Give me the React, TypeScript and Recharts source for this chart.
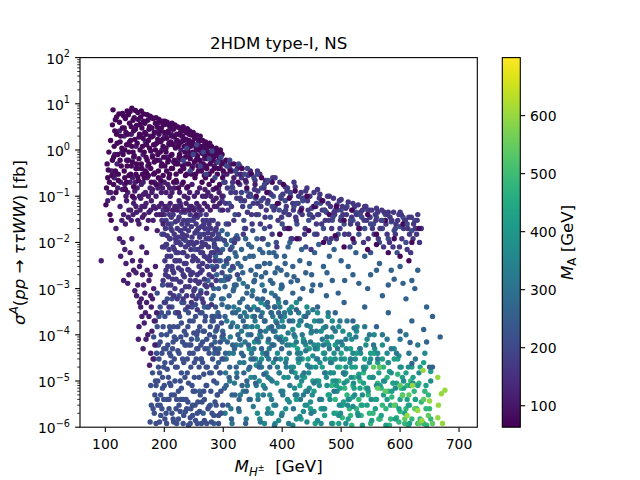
import React from 'react';
import { ScatterChart, Scatter, XAxis, YAxis } from 'recharts';

// ---------- axes / colour scale ----------
const X_DOMAIN = [57, 731];
const X_TICKS = [100, 200, 300, 400, 500, 600, 700];
const Y_DOMAIN = [1e-6, 100];
const Y_TICKS = [1e-6, 1e-5, 1e-4, 1e-3, 1e-2, 1e-1, 1, 10, 100];
const MA_MIN = 63;
const MA_MAX = 700;
const MA_TICKS = [100, 200, 300, 400, 500, 600];

const VIRIDIS = ['#440154', '#471365', '#482475', '#463480', '#414487', '#3b528b', '#355f8d', '#2f6c8e', '#2a788e', '#25848e', '#21918c', '#1e9c89', '#22a884', '#2fb47c', '#44bf70', '#5ec962', '#7ad151', '#9bd93c', '#bddf26', '#dfe318', '#fde725'];

// ---------- data: [M_H±, sigma] grouped by M_A ----------
const MA_A = 75;
const PTS_A = [
  [101,0.065],[104,0.25],[105,0.37],[108,0.04],[110,0.03],[113,7.4],[112,0.6],[115,1.2],[117,4.5],[119,2.2],[121,0.8],[123,6],[125,1.5],[127,0.45],[129,3],[114,0.18],[118,0.12],[122,0.3],
  [131,5.5],[133,1],[135,2.4],[137,7],[139,0.6],[141,3.8],[143,1.6],[145,8],[147,0.9],[149,5],[151,2.8],[153,0.5],[155,6.5],[157,1.9],[159,3.6],[132,0.35],[136,0.2],[140,0.28],[144,0.45],[148,0.16],[152,0.3],[156,0.22],[134,0.14],[146,0.1],
  [161,7],[163,1.2],[165,4.2],[167,2.4],[169,0.7],[171,5.8],[173,1.6],[175,3.2],[177,0.95],[179,5],[181,2],[183,0.55],[185,3.8],[187,1.4],[189,0.8],[191,4.6],[193,2.6],[195,0.45],[197,1.7],[199,3.5],[162,0.4],[166,0.25],[170,0.32],[174,0.5],[178,0.2],[182,0.3],[186,0.18],[190,0.35],[194,0.22],[198,0.28],
  [201,4.2],[203,1.1],[205,2.3],[207,0.6],[209,3.4],[211,1.5],[213,0.8],[215,2.8],[217,1.9],[219,0.5],[221,3.2],[223,1.2],[225,0.7],[227,2.1],[229,2.9],[231,0.45],[233,1.6],[235,0.9],[237,2.4],[239,1.3],[204,0.35],[208,0.25],[212,0.4],[216,0.2],[220,0.3],[224,0.15],[228,0.35],[232,0.2],[236,0.28],[240,0.16],
  [242,2.2],[245,0.8],[248,1.5],[251,1.9],[254,0.6],[257,1.2],[260,1.7],[263,0.5],[266,1],[269,1.4],[272,0.4],[275,0.85],[278,1.2],[281,0.35],[284,0.7],[287,1],[290,0.3],[293,0.6],[296,0.85],[299,0.25],[246,0.3],[252,0.25],[258,0.35],[264,0.2],[270,0.25],[276,0.18],[282,0.22],[288,0.15],[294,0.18],
  [102,0.15],[103,0.5],[106,0.9],[107,0.2],[109,1.6],[111,0.28],[112,3.5],[114,0.7],[116,2.6],[117,0.35],[119,5.2],[120,1.4],[122,0.22],[124,4],[125,0.6],[126,2],[128,1.1],[129,6.2],[130,0.8],[132,3],[133,0.25],[134,4.8],[136,1.3],[137,0.45],[138,2.2],[139,5.8],[140,0.9],[141,1.5],[142,6.8],[143,0.3],[144,3.2],[145,1.2],[146,0.55],[147,4.4],[148,2.6],[149,0.75],[150,1.7],[151,7.2],[152,0.4],[153,3.4],[154,1.4],[155,0.26],[156,4.6],[157,0.65],[158,2.2],[159,1],[160,5.2],
  [161,0.5],[162,3],[163,0.3],[164,1.8],[165,6],[166,0.9],[167,3.8],[168,0.35],[169,2.2],[170,1.3],[171,0.6],[172,4.4],[173,0.28],[174,2.8],[175,1.1],[176,5.4],[177,0.4],[178,1.9],[179,3],[180,0.7],[181,4.8],[182,1.3],[183,2.4],[184,0.32],[185,1],[186,5],[187,0.6],[188,3.2],[189,1.7],[190,0.25],[191,2.2],[192,4],[193,0.9],[194,1.5],[195,3],[196,0.5],[197,4.2],[198,1.2],[199,0.7],[200,2.4],
  [201,0.45],[202,3.6],[203,0.9],[204,1.8],[205,4],[206,0.55],[207,2.6],[208,1.4],[209,0.3],[210,3.2],[211,0.75],[212,2],[213,3.8],[214,0.4],[215,1.3],[216,2.9],[217,0.6],[218,3.5],[219,1.1],[220,0.22],[221,2.2],[222,1.6],[223,0.5],[224,3.1],[225,1.3],[226,0.8],[227,0.35],[228,2.5],[229,1.5],[230,0.65],[231,2],[232,3.2],[233,0.4],[234,1.2],[235,2.6],[236,0.7],[237,1.7],[238,0.3],[239,2.9],[240,1],
  [241,0.5],[242,1.6],[243,2.6],[244,0.65],[245,1.2],[246,2.1],[247,0.4],[248,0.9],[249,2.4],[250,1.3],[251,0.55],[252,1.8],[253,0.3],[254,1.1],[255,2.1],[256,0.75],[257,0.45],[258,1.5],[259,1],[260,0.6],[261,2],[262,1.2],[263,0.35],[264,0.85],[265,1.6],[266,0.5],[267,1.2],[268,0.28],[269,0.75],[270,1.5],[271,0.45],[272,1.1],[273,0.65],[274,1.3],[275,0.3],[276,0.9],[277,1.4],[278,0.5],[279,0.8],[280,1.2],[282,0.6],[283,1],[285,0.4],[286,0.8],[288,1.1],[289,0.55],[291,0.9],[292,0.4],[294,0.7],[295,1],[297,0.5],[298,0.8],[300,0.35],
  [305,0.6],[312,0.35],[318,0.5],[325,0.2],[332,0.4],[340,0.15],[348,0.3],[356,0.1],[365,0.25],[374,0.12],[383,0.2],[392,0.07],[402,0.18],[412,0.09],[422,0.13],[432,0.05],[442,0.1],[455,0.06],[468,0.08],[480,0.04],[492,0.06],[505,0.03],[518,0.05],[530,0.02],[545,0.04],[560,0.015],[575,0.03],[590,0.012],[605,0.025],[620,0.01],[632,0.02],
  [396,0.015],[410,0.02],[425,0.012],[445,0.018],[470,0.01],[490,0.014],[505,0.008],[520,0.012],[545,0.007],[560,0.009],[580,0.006],[600,0.005],[615,0.004],
];

const MA_B = 115;
const PTS_B = [
  [106,0.12],[111,0.35],[116,0.8],[120,0.5],[124,2.6],[128,0.9],[132,2],[136,0.6],[140,1.3],[144,2.2],[148,0.7],[152,1.2],[156,0.4],[160,2.1],[164,0.8],[168,1.5],[172,0.45],[176,2],[180,0.75],[184,1.3],[188,2.5],[192,0.6],[196,1],[200,1.9],[204,0.7],[208,1.3],[212,2.2],[216,0.55],[220,1.5],[224,0.6],[228,1],[232,1.8],[236,0.5],[240,0.8],[244,1.4],[248,0.45],[252,0.9],[256,0.7],[260,1],[264,0.4],[268,0.65],[272,0.9],[276,0.3],[280,0.6],[285,0.45],[290,0.75],[295,0.4],[300,0.55],[306,0.3],[312,0.5],[318,0.25],[324,0.4],[330,0.3],[338,0.22],[346,0.35],[354,0.18],[362,0.3],[372,0.2],
  [125,0.06],[131,0.04],[136,0.08],[140,0.05],[144,0.03],[148,0.07],[153,0.045],[157,0.025],[160,0.09],[163,0.035],[167,0.06],[170,0.02],[174,0.045],[178,0.08],[181,0.03],[185,0.055],[188,0.018],[192,0.04],[195,0.07],[198,0.025],[150,0.13],[165,0.11],[180,0.14],[195,0.12],[210,0.1],[225,0.08],[240,0.09],[255,0.07],[270,0.1],[285,0.06],
  [104,0.08],[109,0.12],[113,0.09],[115,0.25],[118,0.3],[121,0.15],[126,0.2],[129,0.14],[133,0.18],[135,0.1],[138,0.12],[142,0.2],[146,0.25],[149,0.09],[151,0.2],[154,0.15],[158,0.1],[161,0.18],[164,0.2],[168,0.12],[171,0.25],[173,0.1],[176,0.15],[179,0.12],[183,0.2],[186,0.1],[189,0.15],[193,0.18],[197,0.15],[200,0.2],[203,0.12],[206,0.18],[209,0.15],[213,0.12],[217,0.15],[221,0.2],[226,0.12],[230,0.18],[234,0.1],[238,0.15],[243,0.12],[247,0.18],[251,0.1],[256,0.12],[260,0.15],[265,0.1],[269,0.14],[274,0.12],[279,0.1],[283,0.14],[288,0.09],[293,0.12],[298,0.1],
  [128,0.03],[134,0.025],[139,0.035],[143,0.05],[147,0.04],[152,0.06],[155,0.03],[159,0.05],[162,0.06],[166,0.04],[169,0.07],[173,0.03],[177,0.05],[182,0.06],[187,0.04],[191,0.06],[196,0.04],[201,0.06],[205,0.05],[210,0.07],[214,0.05],[218,0.06],[222,0.05],[228,0.06],[233,0.05],[237,0.07],[242,0.05],[246,0.06],[250,0.05],[254,0.04],[259,0.06],[264,0.05],[268,0.07],[273,0.06],[278,0.05],[283,0.08],[289,0.06],[294,0.07],[299,0.05],
  [93,4e-3],[130,1e-2],[135,3.5e-3],[131,1.5e-3],[138,1.3e-3],[152,2.2e-3],[153,7e-4],[157,1.5e-4],[156,8e-5],[164,5e-5],[175,2.2e-5],[118,0.02],[124,0.012],[145,0.012],[142,6e-3],[160,4e-3],[148,2.5e-3],[165,1.2e-3],[170,6e-3],[162,8e-3],[168,3e-4],[172,1e-4],[160,4e-4],[150,9e-4],[176,2e-3],[180,6e-4],[178,4e-4],[183,2e-4],
  [126,5e-3],[133,7e-3],[140,2e-3],[146,4e-3],[155,1.2e-3],[158,3e-3],[163,2e-3],[167,8e-4],[171,2.5e-3],[174,1.5e-3],[177,7e-4],[182,1e-3],[185,3e-3],[161,6e-4],[166,1.8e-4],[170,5e-4],[174,2.5e-4],[179,1.2e-4],[184,6e-5],[187,3e-4],[169,8e-5],[177,4e-5],[181,3e-5],[162,2.5e-4],[158,5e-4],
];

const MA_C = 165;
const PTS_C = [
  [198,0.05],[203,0.03],[207,0.06],[211,0.02],[215,0.04],[219,0.012],[223,0.03],[227,0.07],[231,0.015],[235,0.045],[239,0.025],[243,0.06],[247,0.01],[251,0.035],[255,0.018],[259,0.05],[263,0.008],[267,0.025],[271,0.04],[275,0.012],[279,0.03],[284,0.006],[288,0.02],
  [200,8e-3],[205,5e-3],[209,1.2e-2],[213,3e-3],[217,7e-3],[221,4e-3],[225,1e-2],[229,2.5e-3],[233,6e-3],[237,3.5e-3],[241,9e-3],[245,2e-3],[249,5e-3],[253,1.5e-3],[257,4e-3],[261,2.2e-3],[265,6e-3],[269,1.2e-3],[273,3e-3],[277,5e-3],[281,1.8e-3],
  [202,2e-3],[206,1.2e-3],[210,8e-4],[214,1.6e-3],[218,1e-3],[222,6e-4],[226,1.4e-3],[230,9e-4],[234,1.8e-3],[238,7e-4],[242,1.1e-3],[246,5e-4],[250,9e-4],[254,6e-4],[258,1.3e-3],[262,8e-4],[266,5e-4],
  [196,0.03],[197,0.008],[199,0.015],[200,0.04],[201,0.004],[202,0.02],[203,0.009],[204,0.06],[205,0.014],[206,0.003],[207,0.025],[208,0.007],[209,0.04],[210,0.012],[211,0.005],[212,0.035],[213,0.018],[214,0.0025],[215,0.008],[216,0.05],[217,0.015],[218,0.004],[219,0.028],[220,0.01],[221,0.06],[222,0.02],[223,0.006],[224,0.013],[225,0.035],[226,0.004],[227,0.018],[228,0.009],[229,0.045],[230,0.025],[231,0.006],[232,0.012],[233,0.03],[234,0.0035],[235,0.02],[236,0.008],[237,0.05],[238,0.014],[239,0.005],[240,0.03],[241,0.018],[242,0.0025],[243,0.01],[244,0.04],[245,0.007],
  [246,0.022],[247,0.013],[248,0.004],[249,0.03],[250,0.009],[251,0.055],[252,0.016],[253,0.0045],[254,0.025],[255,0.01],[256,0.035],[257,0.007],[258,0.02],[259,0.003],[260,0.013],[261,0.04],[262,0.006],[263,0.022],[264,0.01],[265,0.0035],[266,0.03],[267,0.015],[268,0.005],[269,0.02],[270,0.009],[271,0.012],[272,0.03],[273,0.0045],[274,0.016],[275,0.008],[276,0.025],[277,0.004],[278,0.012],[279,0.02],[280,0.006],[282,0.015],[283,0.03],[285,0.009],[286,0.004],[287,0.018],[289,0.012],[290,0.007],[291,0.025],
  [198,1.5e-3],[203,2.5e-3],[207,1.8e-3],[211,1.2e-3],[216,2.2e-3],[220,1.6e-3],[224,2.8e-3],[228,1.4e-3],[232,2e-3],[236,1.1e-3],[240,2.6e-3],[244,1.5e-3],[248,2.2e-3],[252,1e-3],[256,2e-3],[260,1.4e-3],[264,2.5e-3],[268,1.6e-3],[272,1.1e-3],[276,2e-3],[280,1.2e-3],[284,2.6e-3],[288,1.5e-3],[200,5e-4],[208,4e-4],[216,7e-4],[224,3e-4],[232,6e-4],[240,4e-4],[248,7e-4],[256,3.5e-4],[264,6e-4],[272,8e-4],[280,4.5e-4],
  [292,0.15],[298,0.08],[303,0.2],[308,0.05],[313,0.12],[318,0.03],[323,0.09],[328,0.18],[333,0.06],[338,0.02],[343,0.1],[348,0.04],[353,0.14],[358,0.07],[363,0.025],[368,0.09],[373,0.05],[378,0.12],[383,0.015],[388,0.06],[393,0.03],[398,0.09],[403,0.045],[408,0.13],[413,0.02],[418,0.07],[423,0.035],[428,0.1],[433,0.055],[438,0.015],[443,0.08],[448,0.04],[453,0.06],[458,0.025],[463,0.09],[468,0.05],[473,0.03],[478,0.07],[483,0.012],[488,0.045],[493,0.065],[498,0.02],[503,0.04],[508,0.055],[513,0.015],[518,0.035],[523,0.06],[528,0.025],[533,0.045],[538,0.01],[543,0.03],[548,0.05],[553,0.02],[558,0.04],[563,0.012],[568,0.03],[573,0.045],[578,0.015],[583,0.035],[588,0.008],[593,0.025],[598,0.04],[603,0.012],[608,0.03],[613,0.02],[618,0.006],[623,0.025],[628,0.015],
  [302,0.5],[315,0.35],[328,0.45],[342,0.28],[358,0.35],[372,0.22],[388,0.25],[405,0.16],[420,0.2],[440,0.13],[460,0.14],[480,0.1],[500,0.085],[520,0.07],[540,0.06],[560,0.055],[580,0.045],[600,0.045],[615,0.035],[630,0.04],
  [301,0.3],[304,0.07],[307,0.15],[309,0.025],[311,0.4],[314,0.06],[316,0.2],[319,0.01],[321,0.12],[324,0.3],[326,0.04],[329,0.09],[331,0.25],[334,0.015],[336,0.08],[339,0.2],[341,0.045],[344,0.3],[346,0.11],[349,0.025],[351,0.07],[354,0.22],[356,0.04],[359,0.13],[361,0.3],[364,0.06],[366,0.012],[369,0.15],[371,0.035],[374,0.2],[376,0.08],[379,0.022],[381,0.11],[384,0.25],[386,0.05],[389,0.15],[391,0.008],[394,0.07],[396,0.2],[399,0.035],
  [401,0.11],[404,0.02],[407,0.06],[409,0.15],[412,0.04],[414,0.1],[417,0.012],[419,0.05],[422,0.16],[424,0.03],[427,0.07],[429,0.012],[432,0.12],[434,0.04],[437,0.09],[439,0.02],[442,0.15],[444,0.05],[447,0.1],[449,0.007],[452,0.035],[454,0.12],[457,0.06],[459,0.015],[462,0.04],[464,0.11],[467,0.025],[469,0.08],[472,0.05],[474,0.012],[477,0.1],[479,0.03],[482,0.06],[484,0.02],[487,0.09],[489,0.04],[492,0.012],[494,0.05],[497,0.08],[499,0.03],
  [502,0.06],[506,0.015],[509,0.04],[512,0.075],[516,0.025],[519,0.05],[522,0.01],[526,0.04],[529,0.065],[532,0.02],[536,0.05],[539,0.03],[542,0.06],[546,0.012],[549,0.035],[552,0.05],[556,0.015],[559,0.03],[562,0.045],[566,0.02],[569,0.05],[572,0.008],[576,0.025],[579,0.04],[582,0.01],[586,0.03],[589,0.045],[592,0.015],[596,0.03],[599,0.008],[602,0.04],[606,0.02],[609,0.03],[612,0.007],[616,0.015],[619,0.035],[622,0.012],[626,0.02],[629,0.03],[633,0.01],[636,0.02],
];

const MA_D = 215;
const PTS_D = [
  [188,8e-4],[193,4e-4],[197,1.2e-3],[201,2.5e-4],[205,6e-4],[209,1.5e-4],[213,4e-4],[217,9e-5],[221,3e-4],[225,7e-4],[229,1.8e-4],[233,5e-4],[237,1e-4],[241,3e-4],[245,6e-5],[249,2e-4],[253,4.5e-4],[257,1.2e-4],[261,3e-4],[265,7e-5],[269,2e-4],[273,4e-4],[277,1e-4],[281,2.5e-4],[286,5e-5],[290,1.5e-4],
  [186,6e-5],[191,3e-5],[195,1e-4],[199,2e-5],[203,5e-5],[207,1.2e-5],[211,3.5e-5],[215,7e-5],[219,2e-5],[223,4.5e-5],[227,1e-5],[231,3e-5],[235,6e-5],[239,1.5e-5],[243,4e-5],[247,8e-6],[251,2.5e-5],[255,5e-5],[259,1.2e-5],[263,3e-5],[267,6e-6],[271,2e-5],
  [180,1.5e-5],[184,5e-6],[189,1e-5],[193,3e-6],[197,7e-6],[201,1.5e-6],[205,4e-6],[209,9e-6],[213,2e-6],[217,5e-6],[221,1.2e-6],[225,3e-6],[229,7e-6],[233,1.8e-6],[237,4e-6],[241,1.1e-6],[245,2.5e-6],[249,6e-6],[253,1.4e-6],[257,3.5e-6],[181,2.5e-6],[186,1.2e-6],[194,1.8e-6],
  [182,9e-5],[183,3e-5],[185,2e-4],[186,8e-6],[187,4e-5],[188,1.5e-4],[189,3e-6],[190,6e-5],[191,2.5e-4],[192,1.5e-5],[193,7e-5],[194,5e-6],[195,3e-4],[196,4e-5],[197,1.2e-5],[198,1.5e-4],[199,5e-5],[200,8e-6],[201,2.5e-5],[202,5e-4],[203,2e-6],[204,1e-4],[205,1.8e-5],[206,6e-5],[207,3e-4],[208,4e-6],[209,4e-5],[210,1.2e-4],[211,8e-6],[212,2.5e-5],[213,6e-4],[214,5e-5],[215,1.5e-6],[216,1.5e-4],[217,3e-5],[218,1e-5],[219,3e-4],[220,8e-5],[221,4e-6],[222,2e-5],[223,1.5e-4],[224,6e-6],[225,4e-5],[226,2.5e-4],[227,2.2e-6],[228,9e-5],[229,1.5e-5],[230,5e-4],[231,7e-5],[232,4e-6],[233,2.5e-5],[234,1.2e-4],[235,1.2e-5],[236,3.5e-4],[237,6e-5],[238,2.5e-6],[239,3e-5],[240,1.5e-4],
  [241,9e-6],[242,6e-5],[243,2e-4],[244,1.6e-6],[245,2e-5],[246,8e-5],[247,4e-4],[248,3e-6],[249,4e-5],[250,1.1e-4],[251,1.2e-5],[252,6e-6],[253,2.5e-4],[254,3e-5],[255,1e-4],[256,2e-6],[257,5e-5],[258,7e-4],[259,2e-5],[260,1.5e-4],[261,5e-6],[262,6e-5],[263,1.2e-6],[264,3e-4],[265,2.5e-5],[266,1.2e-4],[267,1.4e-5],[268,4e-6],[269,5e-5],[270,2.5e-4],[271,8e-6],[272,8e-5],[273,2e-5],[274,2.5e-6],[275,4e-4],[276,4e-5],[277,1.5e-5],[278,1.5e-4],[279,6e-6],[280,6e-5],[281,2e-6],[282,3e-5],[283,2e-4],[284,1e-5],[285,9e-5],[286,3.5e-6],[287,4e-4],[288,2e-5],[289,1.3e-4],[290,5e-6],[291,4e-5],[292,1.8e-6],[293,2.5e-4],[294,1.5e-5],[295,7e-5],[296,6e-6],[297,1.8e-4],[298,3e-5],[299,3e-6],[300,1e-4],
  [183,2e-6],[188,4e-6],[192,1.3e-6],[196,2.5e-6],[199,4e-6],[204,1.2e-6],[208,2.5e-6],[212,5e-6],[216,1.3e-6],[220,2.5e-6],[224,1.5e-6],[228,4e-6],[232,1.2e-6],[236,2.2e-6],[240,3.5e-6],[244,1.2e-6],[248,1.8e-6],[252,3e-6],[256,1.2e-6],[260,2.2e-6],[264,3.5e-6],[268,1.4e-6],[272,1.2e-6],[276,2.8e-6],[280,1.3e-6],[284,1.8e-6],[288,3e-6],[292,1.2e-6],[296,2e-6],[185,1e-5],[190,2e-5],[178,3e-6],[177,8e-6],[176,1.3e-6],
  [295,0.05],[300,0.1],[305,0.025],[310,0.07],[315,0.16],[320,0.04],[325,0.012],[330,0.08],[335,0.03],[340,0.13],[345,0.06],[350,0.018],[355,0.09],[360,0.04],[365,0.15],[370,0.02],[375,0.07],[380,0.035],[385,0.1],[390,0.01],[395,0.05],[400,0.025],[405,0.08],[410,0.04],[415,0.012],[420,0.06],[425,0.025],[430,0.045],[435,0.08],[440,0.008],[445,0.03],[450,0.055],[455,0.015],[460,0.04],[465,0.07],[470,0.02],[475,0.045],[480,0.01],[485,0.03],[490,0.05],[495,0.015],[500,0.035],[505,0.025],[510,0.06],[515,0.008],[520,0.03],[525,0.045],[530,0.015],[535,0.035],[540,0.02],[545,0.05],[550,0.006],[555,0.025],[560,0.035],[565,0.01],[570,0.02],[575,0.04],[580,0.012],[585,0.028],[590,0.018],[595,0.006],[600,0.022],[605,0.035],[610,0.01],[620,0.018],[625,0.03],
  [196,0.015],[204,0.009],[212,0.025],[220,0.006],[228,0.018],[236,0.011],[244,0.03],[252,0.007],[260,0.015],[268,0.009],[276,0.02],[284,0.011],[292,0.004],[296,0.012],
];

const MA_E = 265;
const PTS_E = [
  [282,1.5e-2],[290,6e-3],[298,1.8e-2],[306,3.5e-3],[314,1.1e-2],[322,5e-3],[336,2e-2],[348,8e-3],[358,3e-3],[368,1.2e-2],[378,6e-3],[388,2.2e-3],[405,3.5e-3],[415,1.4e-3],[435,1e-3],[450,2e-3],[465,1.2e-3],[480,5e-3],[495,8e-4],[512,3e-3],[530,1.3e-3],[550,2e-3],[570,7e-4],[590,1.6e-3],[610,6e-4],[625,1e-3],[645,4e-4],
  [285,8e-3],[295,4e-3],[305,9e-3],[312,2.5e-3],[320,6e-3],[330,3e-3],[338,1.2e-2],[345,5e-3],[355,2e-3],[362,7e-3],[370,3.5e-3],[380,1.5e-3],[390,5e-3],[398,2.5e-3],[410,8e-3],[420,1.8e-3],[430,4e-3],[440,2.2e-3],[455,6e-3],[470,3e-3],[485,1.5e-3],[500,4e-3],[520,2e-3],[540,5e-3],[560,2.5e-3],[580,1.2e-3],[600,3e-3],[620,1.5e-3],
  [281,3e-3],[284,1e-3],[287,5e-3],[289,2e-3],[293,1.2e-2],[296,1.5e-3],[299,7e-3],[301,3e-3],[303,1.1e-3],[307,1.5e-2],[309,4.5e-3],[311,1.8e-3],[315,8e-3],[317,2.8e-3],[319,1.2e-3],[323,1.4e-2],[325,3.5e-3],[327,1.6e-3],[331,7e-3],[333,2.2e-3],[337,4.5e-3],[341,1.1e-3],[343,9e-3],[347,2.5e-3],[351,5e-3],[353,1.5e-3],[357,1.2e-2],[361,3e-3],[365,1.8e-3],[367,6e-3],[372,2.2e-3],[376,9e-3],[379,3.5e-3],[384,1.3e-3],[386,6e-3],[392,2.8e-3],[396,1.5e-2],[399,1.2e-3],[404,5e-3],[408,2e-3],[413,1e-2],[418,3e-3],[426,1.5e-3],[433,7e-3],[446,3.5e-3],[452,1.2e-3],[462,9e-3],[476,2.2e-3],[488,7e-3],[506,1.5e-3],[525,6e-3],[545,1e-3],[565,3.5e-3],[585,2.5e-3],[605,1.3e-3],[630,2.5e-3],
  [262,9e-4],[268,4e-4],[274,1.5e-3],[280,6e-4],[286,2.5e-4],[292,1e-3],[298,4.5e-4],[304,1.8e-3],[310,7e-4],[316,3e-4],[322,1.2e-3],[328,5e-4],[334,2e-4],[340,8e-4],[346,3.5e-4],[352,1.4e-3],[358,6e-4],[364,2.5e-4],[370,9e-4],[376,4e-4],[382,1.5e-4],[388,7e-4],[394,3e-4],[400,1.1e-3],[406,5e-4],[412,2e-4],[418,8e-4],[424,3.5e-4],[430,6e-4],[440,2.5e-4],[450,9e-4],[460,4e-4],[475,7e-4],[490,3e-4],[505,5e-4],[520,2e-4],[540,4e-4],[560,1.5e-4],[580,3e-4],[600,1.2e-4],[620,2e-4],[640,1.3e-4],[668,9e-5],[655,2.5e-4],[617,6.8e-5],[645,7e-5],[655,2e-5],[650,2e-5],[620,2.4e-5],
  [281,2e-4],[283,7e-4],[285,4e-5],[287,1.2e-4],[289,9e-6],[291,3e-4],[293,5e-5],[295,1.5e-5],[297,6e-4],[299,1.2e-4],[301,3e-5],[303,2.5e-4],[305,8e-6],[307,7e-5],[309,4e-4],[311,2e-5],[313,1.5e-4],[315,5e-6],[317,9e-4],[319,5e-5],[321,3e-4],[323,1.2e-5],[325,1e-4],[327,4e-6],[329,2.5e-4],[331,4e-5],[333,6e-4],[335,1.5e-5],[337,1.5e-4],[339,6e-6],[341,4e-4],[343,6e-5],[345,2e-5],[347,1e-4],[349,7e-4],[351,3e-5],[353,2.5e-4],[355,9e-6],[357,8e-5],[359,3.5e-4],[361,2e-5],[363,1.2e-4],[365,5e-5],[367,6e-4],[369,1.4e-5],[371,2e-4],[373,4e-5],[375,5e-4],[377,8e-5],[379,2e-5],[381,3e-4],[383,6e-5],[385,1.2e-4],[387,4e-4],[389,3e-5],[391,1.8e-4],[393,6e-4],[395,8e-5],[397,2.5e-4],[399,5e-5],
  [256,8e-5],[262,3e-5],[268,1.2e-4],[274,5e-5],[280,1.5e-5],[286,7e-5],[292,2.5e-5],[298,9e-5],[304,4e-5],[310,1.2e-5],[316,6e-5],[322,2e-5],[328,8e-5],[334,3.5e-5],[340,1e-5],[260,6e-6],[266,2e-6],[272,8e-6],[278,3e-6],[284,1.2e-6],[290,5e-6],[296,2e-6],[302,7e-6],[308,3e-6],[314,1.5e-6],[320,5e-6],[326,2.5e-6],[332,8e-6],[338,1.2e-6],[344,4e-6],
];

const MA_F = 315;
const PTS_F = [
  [302,1.5e-3],[318,1e-3],[334,1.3e-3],[350,9e-4],[366,1.2e-3],[382,8e-4],[398,1e-3],
  [300,6e-4],[306,2e-4],[312,9e-5],[318,4e-4],[324,1.5e-4],[330,6e-5],[336,3e-4],[342,1e-4],[348,4e-5],[354,2e-4],[360,7e-5],[366,3e-4],[372,1.2e-4],[378,5e-5],[384,2.5e-4],[390,9e-5],[396,4e-4],[402,1.5e-4],[408,6e-5],[414,3e-4],[420,1e-4],[426,4e-5],[432,2e-4],[438,7e-5],[444,3e-4],[450,1.2e-4],[456,5e-5],[462,2e-4],[468,8e-5],[474,1.5e-4],[480,5e-5],[490,1.2e-4],[500,7e-5],[510,2e-4],[525,9e-5],[540,1.5e-4],[555,6e-5],[570,1e-4],[585,5e-5],[600,8e-5],[615,4e-5],[630,6e-5],
  [305,3e-5],[311,1e-5],[317,4e-5],[323,1.5e-5],[329,5e-6],[335,2.5e-5],[341,8e-6],[347,3e-5],[353,1.2e-5],[359,4e-6],[365,2e-5],[371,7e-6],[377,3e-5],[383,1e-5],[389,3e-6],[395,1.5e-5],[401,5e-6],[407,2e-5],[413,8e-6],[419,2.5e-6],[425,1.2e-5],[431,4e-6],[437,1.5e-5],[443,6e-6],[449,2e-6],
  [303,2e-6],[315,1.2e-6],[327,2.2e-6],[339,1.5e-6],[351,2.8e-6],[363,1.3e-6],[375,2e-6],[387,1.1e-6],[399,1.8e-6],[411,1.2e-6],
  [301,8e-5],[304,1.5e-5],[307,4e-4],[310,4e-5],[313,2.5e-6],[316,1.8e-4],[319,9e-6],[322,6e-5],[326,3.5e-4],[328,2.5e-5],[331,1.2e-4],[334,6e-6],[337,7e-5],[340,2.5e-4],[343,1.8e-5],[346,4e-6],[349,1.5e-4],[352,5e-5],[356,8e-6],[358,3.5e-4],[362,2.5e-5],[364,9e-5],[368,5e-6],[370,2e-4],[374,3.5e-5],[376,1.2e-5],[380,1.4e-4],[382,4e-6],[386,6e-5],[388,4e-4],[392,2e-5],[394,1.5e-4],[398,6e-6],[400,7e-5],
  [404,3e-4],[406,2.5e-5],[410,1.1e-4],[412,4e-5],[416,1.6e-5],[418,2e-4],[422,5e-6],[424,7e-5],[428,3e-4],[430,3e-5],[434,1e-4],[436,5e-6],[440,4.5e-5],[442,1.6e-4],[446,2e-5],[448,7e-5],[452,3.5e-4],[454,9e-6],[458,1.2e-4],[460,3e-5],[464,4e-6],[466,2e-4],[470,6e-5],[472,1.5e-5],[476,9e-5],[478,3e-4],[482,2.5e-5],[486,1.4e-4],[488,6e-6],[494,5e-5],[498,2e-4],[504,1.5e-5],[508,8e-5],[516,3e-5],[522,1.4e-4],[532,5e-5],[548,1e-4],[562,3e-5],[578,8e-5],[594,4e-5],[610,1e-4],[626,3e-5],
];

const MA_G = 370;
const PTS_G = [
  [352,4e-4],[358,1.5e-4],[364,5e-4],[370,2e-4],[376,7e-5],[382,3e-4],[388,1.2e-4],[394,5e-4],[400,2e-4],[406,8e-5],[412,3.5e-4],[418,1.3e-4],[424,5e-4],[430,2e-4],[436,7e-5],[442,4e-4],[448,1.5e-4],[454,6e-5],[460,3e-4],[466,1.2e-4],[472,4e-5],[478,2.5e-4],[484,9e-5],[490,3e-5],[496,1.5e-4],[502,6e-5],[508,2e-5],[514,1e-4],[520,4e-5],[526,1.2e-4],[532,5e-5],[538,2e-5],[544,8e-5],[550,3e-5],[556,1e-4],[562,4e-5],[570,6e-5],[580,2.5e-5],[590,5e-5],[600,2e-5],
  [355,3e-5],[361,1e-5],[367,4e-5],[373,1.5e-5],[379,5e-6],[385,2.5e-5],[391,9e-6],[397,3e-5],[403,1.2e-5],[409,4e-6],[415,2e-5],[421,7e-6],[427,3e-5],[433,1e-5],[439,3e-6],[445,1.5e-5],[451,5e-6],[457,2e-5],[463,8e-6],[469,2.5e-6],[475,1.2e-5],[481,4e-6],[487,1.5e-5],[493,6e-6],[499,2e-6],[505,9e-6],[511,3e-6],[517,1.2e-5],[523,5e-6],[529,1.8e-6],
  [358,2e-6],[370,1.2e-6],[382,2e-6],[394,1.4e-6],[406,2.5e-6],[418,1.1e-6],[430,1.7e-6],[442,1.3e-6],[454,2.2e-6],[466,1.2e-6],
  [341,1.5e-4],[344,5e-5],[347,1.2e-5],[350,2.5e-4],[353,7e-5],[356,2.2e-5],[359,5e-6],[362,1e-4],[365,3e-5],[368,8e-6],[371,4.5e-4],[374,4e-5],[377,1.4e-4],[380,1.1e-5],[383,6e-5],[386,3e-6],[389,2e-4],[392,4e-5],[395,1.5e-5],[398,9e-5],[401,6e-6],[404,2.5e-4],[407,3e-5],[410,1.2e-5],[413,6e-5],[416,4e-4],[419,2e-5],[422,9e-5],[425,5e-6],[428,1.6e-4],[431,4e-5],[434,1.3e-5],[437,2.5e-4],[440,6e-5],[443,2.2e-5],[446,7e-6],[449,1.1e-4],[452,3.5e-5],[455,2e-4],[458,1e-5],
  [461,6e-5],[464,2.5e-5],[467,4e-6],[470,1.4e-4],[473,3e-5],[476,8e-6],[479,6e-5],[482,1.5e-5],[485,2e-4],[488,4e-5],[491,1e-5],[494,7e-5],[497,3e-6],[500,3e-5],[503,1.2e-4],[506,1.4e-5],[509,5e-5],[512,4e-6],[515,2.5e-5],[518,8e-5],[521,9e-6],[524,3e-5],[527,1.5e-4],[530,1.2e-5],[533,4e-5],[536,5e-6],[539,1.8e-5],[542,6e-5],[545,7e-6],[548,2.5e-5],[551,4e-6],[554,1.2e-5],[557,5e-5],[560,8e-6],[566,2e-5],[572,1e-5],[578,4e-5],[585,1.5e-5],[592,7e-6],[598,3.5e-5],[606,1e-5],[614,2e-5],[622,9e-6],[632,1.5e-5],[642,4e-5],[652,1e-5],
  [362,1.5e-6],[376,2.5e-6],[388,1.2e-6],[400,2e-6],[412,3.5e-6],[424,1.5e-6],[436,2.2e-6],[448,3.5e-6],[460,1.4e-6],[472,2.5e-6],[484,1.2e-6],[496,1.8e-6],[508,1.2e-6],[520,2.8e-6],
];

const MA_H = 420;
const PTS_H = [
  [420,6e-5],[428,2.5e-5],[436,8e-5],[444,3e-5],[452,1e-5],[460,5e-5],[468,2e-5],[476,7e-5],[484,2.5e-5],[492,8e-6],[500,4e-5],[508,1.5e-5],[516,5e-5],[524,2e-5],[532,7e-6],[540,3e-5],[548,1.2e-5],[556,4e-5],[564,1.5e-5],[572,5e-6],[580,2.5e-5],[588,9e-6],[596,3e-5],[604,1.2e-5],[612,4e-6],[620,2e-5],[630,8e-6],[640,2.5e-5],
  [424,4e-6],[432,1.5e-6],[440,6e-6],[448,2.5e-6],[456,1.2e-6],[464,4e-6],[472,1.8e-6],[480,5e-6],[488,2e-6],[496,1.2e-6],[504,3.5e-6],[512,1.5e-6],[520,4.5e-6],[528,2e-6],[536,1.1e-6],[544,3e-6],[552,1.4e-6],[560,4e-6],[568,1.8e-6],[576,1.1e-6],[584,3e-6],[592,1.5e-6],[600,4e-6],[608,2e-6],[616,1.2e-6],
  [422,1.5e-5],[426,5e-5],[430,8e-6],[434,3e-5],[438,1.2e-5],[442,3e-6],[446,5e-5],[450,2e-5],[454,6e-6],[458,3e-5],[462,1e-5],[466,2.5e-6],[470,4e-5],[474,1.5e-5],[478,5e-6],[482,3e-5],[486,1e-5],[490,6e-5],[494,2e-5],[498,7e-6],[502,3e-6],[506,3e-5],[510,1e-5],[514,4e-6],[518,2e-5],[522,7e-6],[526,4e-5],[530,1.4e-5],[534,3e-6],[538,9e-6],[542,2e-5],[546,6e-6],[550,4e-5],[554,1.2e-5],[558,2.5e-6],[562,2.5e-5],[566,8e-6],[570,3e-5],[574,1e-5],[578,4e-6],[582,1.6e-5],[586,6e-6],[590,3e-5],[594,9e-6],[598,2.5e-6],[602,2e-5],[606,7e-6],[610,1.5e-5],[614,3e-6],[618,8e-6],[622,1.2e-5],[626,4e-6],[634,2e-5],[644,8e-6],[652,1.6e-5],
];

const MA_I = 480;
const PTS_I = [
  [482,1.5e-5],[490,4e-6],[498,2e-5],[506,7e-6],[514,2.5e-6],[522,1.2e-5],[530,4e-6],[538,1.5e-5],[546,5e-6],[554,2e-6],[562,9e-6],[570,3e-6],[578,1.2e-5],[586,4.5e-6],[594,1.6e-6],[602,7e-6],[610,2.5e-6],[618,1e-5],[626,4e-6],[634,1.5e-6],[642,6e-6],[650,2.5e-6],
  [486,1.2e-6],[502,1.6e-6],[518,1.1e-6],[534,1.8e-6],[550,1.2e-6],[566,1.5e-6],[582,1.1e-6],[598,1.3e-6],[614,1.1e-6],[630,1.2e-6],[645,1.1e-6],
  [484,8e-6],[492,2e-6],[496,1e-5],[500,3e-6],[504,1.5e-5],[510,5e-6],[516,1.8e-6],[520,8e-6],[526,2.5e-6],[532,1e-5],[536,3e-6],[542,7e-6],[548,2e-6],[552,1.2e-5],[558,4e-6],[564,1.5e-6],[568,7e-6],[572,2e-5],[576,2.5e-6],[580,6e-6],[584,1.5e-6],[588,9e-6],[592,3e-6],[596,1.4e-5],[600,2.2e-6],[604,5e-6],[608,1.2e-6],[612,8e-6],[616,3e-6],[620,1.5e-6],[624,6e-6],[628,2.5e-6],[632,9e-6],[636,3.5e-6],[640,1.2e-6],[644,2.5e-6],[648,5e-6],[652,1.5e-6],
];

const MA_J = 540;
const PTS_J = [
  [555,2e-5],[565,2e-5],[562,7e-6],[575,6e-6],[590,3e-6],[600,8e-6],[604,4.8e-6],[608,1.5e-6],[615,5e-6],[625,2.5e-6],[632,1.2e-6],[640,4e-6],[648,1.8e-6],[655,1.2e-6],
];

const MA_K = 600;
const PTS_K = [
  [639,1.7e-5],[664,1.2e-5],[676,6.3e-6],[670,5.3e-6],[665,3e-6],[664,1.6e-6],[672,1.2e-6],[650,3.7e-6],[630,2.3e-6],[637,1.4e-6],[621,8e-6],[612,1.8e-6],
];

const MA_L = 190;
const PTS_L = [
  [232,0.6],[238,1.1],[244,0.35],[249,0.8],[255,1.3],[261,0.45],[266,0.9],[271,0.3],[276,0.65],[281,0.95],[286,0.25],[291,0.55],[296,0.7],[301,0.2],[306,0.45],[311,0.6],[316,0.15],[321,0.35],[326,0.5],[331,0.12],[336,0.3],[341,0.4],[347,0.1],[352,0.25],[358,0.3],[364,0.08],[370,0.18],[376,0.22],[383,0.06],[390,0.15],[398,0.1],[406,0.05],[414,0.12],[424,0.07],[434,0.09],[446,0.04],[458,0.07],[472,0.05],[486,0.035],[500,0.05],[516,0.03],[532,0.04],[550,0.025],[570,0.03],[592,0.02],[612,0.025],
  [286,8e-3],[289,3e-3],[292,1.5e-2],[295,6e-3],[298,2.2e-3],[302,1.1e-2],[305,4e-3],[308,1.6e-3],[312,7e-3],[316,3e-3],[320,1.2e-2],[324,2e-3],
];

const SERIES = [
  { ma: MA_I, pts: PTS_I },
  { ma: MA_H, pts: PTS_H },
  { ma: MA_G, pts: PTS_G },
  { ma: MA_F, pts: PTS_F },
  { ma: MA_E, pts: PTS_E },
  { ma: MA_D, pts: PTS_D },
  { ma: MA_C, pts: PTS_C },
  { ma: MA_B, pts: PTS_B },
  { ma: MA_A, pts: PTS_A },
  { ma: MA_L, pts: PTS_L },
  { ma: MA_J, pts: PTS_J },
  { ma: MA_K, pts: PTS_K },
];

// ---------- helpers ----------
function hexToRgb(h: string) {
  return [parseInt(h.slice(1, 3), 16), parseInt(h.slice(3, 5), 16), parseInt(h.slice(5, 7), 16)];
}
function viridis(v: number) {
  let t = (v - MA_MIN) / (MA_MAX - MA_MIN);
  t = Math.max(0, Math.min(1, t));
  const f = t * (VIRIDIS.length - 1);
  const i = Math.min(VIRIDIS.length - 2, Math.floor(f));
  const r = f - i;
  const a = hexToRgb(VIRIDIS[i]);
  const b = hexToRgb(VIRIDIS[i + 1]);
  const c = a.map((x, k) => Math.round(x + (b[k] - x) * r));
  return `rgb(${c[0]},${c[1]},${c[2]})`;
}

const FONT = 'DejaVu Sans';
const PLOT_L = 80;
const PLOT_R = 477.3;
const PLOT_T = 57.6;
const PLOT_B = 427.2;
const CB_L = 502.3;
const CB_R = 520.3;

const Y_MINOR: number[] = [];
for (let e = -6; e < 2; e++) for (let m = 2; m <= 9; m++) Y_MINOR.push(m * Math.pow(10, e));
const Y_ALL = [...Y_TICKS, ...Y_MINOR].sort((a, b) => a - b);

const YTick = (props: any) => {
  const { y, payload } = props;
  const v = payload.value;
  const lg = Math.log10(v);
  const e = Math.round(lg);
  const major = Math.abs(lg - e) < 1e-6;
  return (
    <g>
      <line x1={PLOT_L} x2={PLOT_L - (major ? 4.86 : 2.78)} y1={y} y2={y} stroke="#000" strokeWidth={major ? 1.1 : 0.8} />
      {major && (
        <text x={PLOT_L - 10} y={y + 6} textAnchor="end" fontSize={13.9} fontFamily={FONT} fill="#000">
          <tspan>10</tspan>
          <tspan dy={-6.5} fontSize={9.7}>{e < 0 ? '\u2212' + -e : String(e)}</tspan>
        </text>
      )}
    </g>
  );
};

export default function App() {
  return (
    <div style={{ position: 'absolute', left: 0, top: 0, width: 640, height: 480, background: '#fff' }}>
      <div style={{ position: 'absolute', left: 0, top: 0 }}>
        <ScatterChart width={640} height={480} margin={{ top: PLOT_T, right: 640 - PLOT_R, bottom: 480 - PLOT_B - 30, left: PLOT_L - 60 }}>
          <XAxis
            type="number"
            dataKey="x"
            domain={X_DOMAIN}
            ticks={X_TICKS}
            interval={0}
            allowDataOverflow
            height={30}
            axisLine={false}
            tickSize={4.86}
            tickMargin={7}
            tickLine={{ stroke: '#000', strokeWidth: 1.1 }}
            tick={{ fill: '#000', fontSize: 13.9, fontFamily: FONT }}
          />
          <YAxis
            type="number"
            dataKey="y"
            scale="log"
            domain={Y_DOMAIN}
            ticks={Y_ALL}
            interval={0}
            allowDataOverflow
            width={60}
            axisLine={false}
            tickLine={false}
            tick={(p: any) => <YTick {...p} />}
          />
          {SERIES.map((s, i) => {
            const col = viridis(s.ma);
            return (
              <Scatter
                key={i}
                data={s.pts.map(([x, y]) => ({ x, y }))}
                fill={col}
                isAnimationActive={false}
                shape={(p: any) => <circle cx={p.cx} cy={p.cy} r={2.7} fill={col} />}
              />
            );
          })}
        </ScatterChart>
      </div>
      <svg width={640} height={480} style={{ position: 'absolute', left: 0, top: 0 }}>
        <defs>
          <linearGradient id="viridisGrad" x1="0" y1="1" x2="0" y2="0">
            {VIRIDIS.map((c, i) => (
              <stop key={i} offset={i / (VIRIDIS.length - 1)} stopColor={c} />
            ))}
          </linearGradient>
        </defs>
        <rect x={CB_L} y={PLOT_T} width={CB_R - CB_L} height={PLOT_B - PLOT_T} fill="url(#viridisGrad)" stroke="none" />
      </svg>
      <div style={{ position: 'absolute', left: 0, top: 0 }}>
        <ScatterChart width={640} height={480} margin={{ top: PLOT_T, right: 640 - CB_R - 60, bottom: 480 - PLOT_B, left: CB_L }}>
          <XAxis type="number" dataKey="x" domain={[0, 1]} hide height={0} />
          <YAxis
            type="number"
            dataKey="y"
            orientation="right"
            domain={[MA_MIN, MA_MAX]}
            ticks={MA_TICKS}
            interval={0}
            allowDataOverflow
            width={60}
            axisLine={false}
            tickSize={4.86}
            tickMargin={4.86}
            tickLine={{ stroke: '#000', strokeWidth: 1.1 }}
            tick={{ fill: '#000', fontSize: 13.9, fontFamily: FONT }}
          />
        </ScatterChart>
      </div>
      <svg width={640} height={480} style={{ position: 'absolute', left: 0, top: 0, pointerEvents: 'none' }} fontFamily={FONT}>
        <rect x={PLOT_L} y={PLOT_T} width={PLOT_R - PLOT_L} height={PLOT_B - PLOT_T} fill="none" stroke="#000" strokeWidth={1.1} />
        <rect x={CB_L} y={PLOT_T} width={CB_R - CB_L} height={PLOT_B - PLOT_T} fill="none" stroke="#000" strokeWidth={1.1} />
        <text x={(PLOT_L + PLOT_R) / 2} y={49} textAnchor="middle" fontSize={16.67} fill="#000">2HDM type-I, NS</text>
        <text x={(PLOT_L + PLOT_R) / 2} y={472} textAnchor="middle" fontSize={16.67} fill="#000">
          <tspan fontStyle="italic">M</tspan>
          <tspan dy={3.5} fontSize={11.7} fontStyle="italic">H</tspan>
          <tspan dy={-5} fontSize={8.2}>±</tspan>
          <tspan dy={1.5}>{'\u00a0\u00a0[GeV]'}</tspan>
        </text>
        <text transform={`translate(25,${(PLOT_T + PLOT_B) / 2}) rotate(-90)`} textAnchor="middle" fontSize={16.67} fill="#000">
          <tspan fontStyle="italic">σ</tspan>
          <tspan dy={-7} fontSize={11.7} fontStyle="italic">A</tspan>
          <tspan dy={7}>(</tspan>
          <tspan fontStyle="italic">pp</tspan>
          <tspan>{'\u00a0→\u00a0'}</tspan>
          <tspan fontStyle="italic">ττWW</tspan>
          <tspan>{')\u00a0[fb]'}</tspan>
        </text>
        <text transform={`translate(572.5,${(PLOT_T + PLOT_B) / 2}) rotate(-90)`} textAnchor="middle" fontSize={16.67} fill="#000">
          <tspan fontStyle="italic">M</tspan>
          <tspan dy={3.5} fontSize={11.7}>A</tspan>
          <tspan dy={-3.5}>{'\u00a0[GeV]'}</tspan>
        </text>
      </svg>
    </div>
  );
}
